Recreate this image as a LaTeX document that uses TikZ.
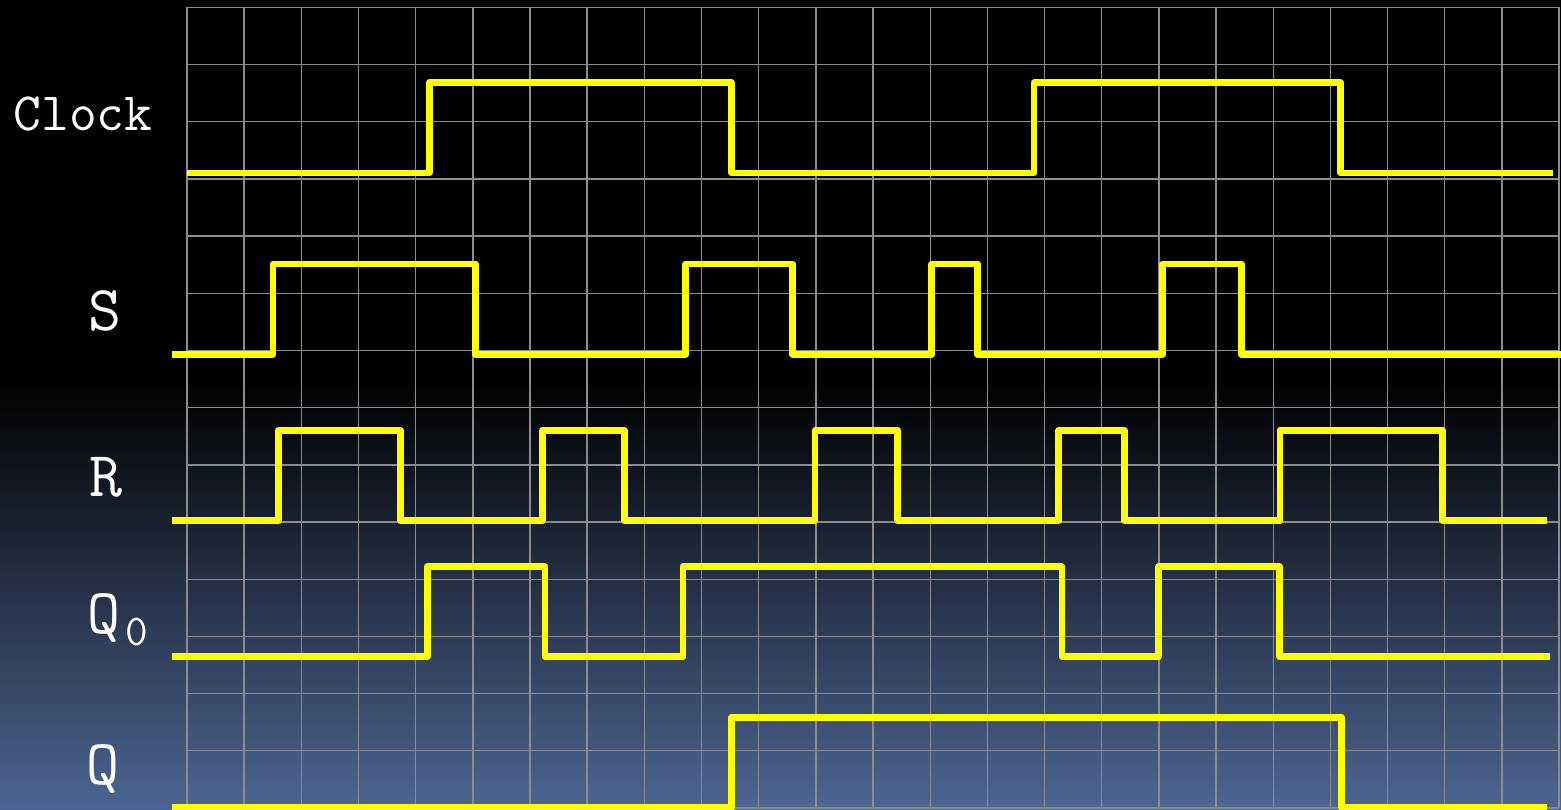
\documentclass[tikz,border=0pt]{standalone}
\usepackage{fontspec}
\definecolor{gridgray}{RGB}{140,140,140}
\definecolor{bgblue}{RGB}{77,101,146}
\definecolor{sigyellow}{RGB}{255,255,0}
\begin{document}
\begin{tikzpicture}[x=1pt,y=-1pt,
  sig/.style={draw=sigyellow, line width=6.8pt, line join=round, line cap=butt},
  gridline/.style={draw=gridgray, line width=1.4pt},
  lbl/.style={text=white, inner sep=0pt, anchor=base},
  biglbl/.style={lbl, font=\ttfamily\fontsize{64}{70}\selectfont},
  clklbl/.style={lbl, font=\ttfamily\fontsize{54}{60}\selectfont}]
\useasboundingbox (0,0) rectangle (1561,810);
% background
\fill[black] (0,0) rectangle (1561,381);
\shade[top color=black, bottom color=bgblue] (0,380) rectangle (1561,810);
% grid
\foreach \i in {0,...,24}
  \draw[gridline] ({187+57.17*\i},7.3) -- ({187+57.17*\i},808);
\foreach \j in {0,...,14}
  \draw[gridline] (187,{7.3+57.19*\j}) -- (1559.1,{7.3+57.19*\j});
% labels
\node[clklbl] (clk) at (83,130.7) {Clock};
\node[biglbl] (s) at (105,330.7) {S};
\node[biglbl] (r) at (105.8,496) {R};
\node[biglbl] (q0) at (118,633) {Q\kern5pt\raisebox{-12pt}{\fontsize{44}{48}\selectfont 0}};
\node[biglbl] (q) at (103.3,784.7) {Q};
% signals
\draw[sig] (187,173) -- (429.3,173) -- (429.3,82.7) -- (731.8,82.7) -- (731.8,173)
  -- (1034,173) -- (1034,82.7) -- (1340.8,82.7) -- (1340.8,173) -- (1553,173);
\draw[sig] (172.3,354.3) -- (273,354.3) -- (273,264) -- (475.5,264) -- (475.5,354.3)
  -- (685.8,354.3) -- (685.8,264) -- (792.6,264) -- (792.6,354.3)
  -- (931.8,354.3) -- (931.8,264) -- (977.5,264) -- (977.5,354.3)
  -- (1162.7,354.3) -- (1162.7,264) -- (1241.2,264) -- (1241.2,354.3) -- (1561,354.3);
\draw[sig] (172.3,520.5) -- (278.8,520.5) -- (278.8,430.3) -- (400.7,430.3) -- (400.7,520.5)
  -- (542.5,520.5) -- (542.5,430.3) -- (624.2,430.3) -- (624.2,520.5)
  -- (815,520.5) -- (815,430.3) -- (897.8,430.3) -- (897.8,520.5)
  -- (1058.8,520.5) -- (1058.8,430.3) -- (1124.3,430.3) -- (1124.3,520.5)
  -- (1280,520.5) -- (1280,430.3) -- (1442.5,430.3) -- (1442.5,520.5) -- (1547.3,520.5);
\draw[sig] (172.3,656.7) -- (427.3,656.7) -- (427.3,566.7) -- (544.9,566.7) -- (544.9,656.7)
  -- (683,656.7) -- (683,566.7) -- (1061.9,566.7) -- (1061.9,656.7)
  -- (1158.5,656.7) -- (1158.5,566.7) -- (1279.7,566.7) -- (1279.7,656.7) -- (1550,656.7);
\draw[sig] (172.3,807.3) -- (731.8,807.3) -- (731.8,717.3) -- (1341.5,717.3) -- (1341.5,807.3) -- (1546.7,807.3);
\end{tikzpicture}
\end{document}
